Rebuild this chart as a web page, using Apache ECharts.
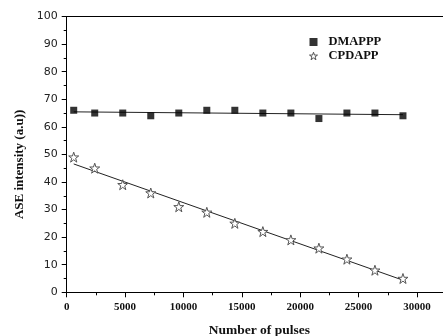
<!DOCTYPE html>
<html>
<head>
<meta charset="utf-8">
<script src="https://cdn.jsdelivr.net/npm/echarts@6/dist/echarts.min.js"></script>
<style>
  html, body { margin: 0; padding: 0; background: #fff; }
  #chart { width: 443px; height: 336px; }
</style>
</head>
<body>
<div id="chart"></div>
<script>
// Pulse counts at which ASE intensity was recorded
const pulses = [600, 2400, 4800, 7200, 9600, 12000, 14400, 16800, 19200, 21600, 24000, 26400, 28800];
// ASE intensity (a.u.) for each dye
const dmappp = [66, 65, 65, 64, 65, 66, 66, 65, 65, 63, 65, 65, 64];
const cpdapp = [49, 45, 39, 36, 31, 29, 25, 22, 19, 16, 12, 8, 5];

const seriesNames = ['DMAPPP', 'CPDAPP'];
const xTitle = 'Number of pulses';
const yTitle = 'ASE intensity (a.u))';

// Least-squares straight line through a set of points, evaluated at the first and last x
function linearFit(xs, ys) {
  const n = xs.length;
  const mx = xs.reduce((a, b) => a + b, 0) / n;
  const my = ys.reduce((a, b) => a + b, 0) / n;
  let sxy = 0, sxx = 0;
  for (let i = 0; i < n; i++) {
    sxy += (xs[i] - mx) * (ys[i] - my);
    sxx += (xs[i] - mx) * (xs[i] - mx);
  }
  const k = sxy / sxx;
  const b = my - k * mx;
  const x0 = xs[0], x1 = xs[n - 1];
  return [[x0, k * x0 + b], [x1, k * x1 + b]];
}

const pairs = (xs, ys) => xs.map((x, i) => [x, ys[i]]);
const starPath = 'path://M50,2 L61.8,36.2 L97.6,36.2 L68.6,57.4 L79.5,92 L50,70.6 L20.5,92 L31.4,57.4 L2.4,36.2 L38.2,36.2 Z';
const serif = '"Liberation Serif", "Times New Roman", serif';

const chart = echarts.init(document.getElementById('chart'), null, { renderer: 'canvas' });

chart.setOption({
  backgroundColor: '#ffffff',
  animation: false,
  grid: { left: 66.7, top: 16.5, right: -9, bottom: 43.7, containLabel: false, outerBoundsMode: 'none' },
  legend: {
    orient: 'vertical',
    left: 304,
    top: 30,
    itemWidth: 8,
    itemHeight: 8,
    itemGap: 0,
    textStyle: { fontFamily: serif, fontWeight: 'bold', fontSize: 12.5, color: '#111', padding: [0, 0, 0, 6], lineHeight: 14 },
    data: [
      { name: seriesNames[0], icon: 'rect', itemStyle: { color: '#000' } },
      { name: seriesNames[1], icon: starPath, itemStyle: { color: '#fff', borderColor: '#555', borderWidth: 1 } }
    ]
  },
  xAxis: [
    {
      type: 'value',
      min: 0,
      max: 33000,
      interval: 5000,
      position: 'bottom',
      name: xTitle,
      nameLocation: 'middle',
      nameGap: 31,
      nameTextStyle: { fontFamily: serif, fontWeight: 'bold', fontSize: 13.5, color: '#111' },
      axisLine: { show: true, onZero: false, lineStyle: { color: '#000', width: 1 } },
      axisTick: { show: true, inside: false, length: 5, lineStyle: { color: '#000' } },
      minorTick: { show: true, splitNumber: 2, length: 3, lineStyle: { color: '#000' } },
      splitLine: { show: false },
      axisLabel: {
        fontFamily: serif, fontWeight: 'bold', fontSize: 11, color: '#111', margin: 9, showMaxLabel: false,
        formatter: v => String(v)
      }
    },
    {
      type: 'value',
      min: 0,
      max: 33000,
      position: 'top',
      axisLine: { show: true, onZero: false, lineStyle: { color: '#000', width: 1 } },
      axisTick: { show: false },
      axisLabel: { show: false },
      splitLine: { show: false }
    }
  ],
  yAxis: {
    type: 'value',
    min: 0,
    max: 100,
    interval: 10,
    name: yTitle,
    nameLocation: 'middle',
    nameGap: 39,
    nameTextStyle: { fontFamily: serif, fontWeight: 'bold', fontSize: 13, color: '#111', padding: [0, 20, 0, 0] },
    axisLine: { show: true, onZero: false, lineStyle: { color: '#000', width: 1 } },
    axisTick: { show: true, inside: false, length: 5, lineStyle: { color: '#000' } },
    minorTick: { show: true, splitNumber: 2, length: 3, lineStyle: { color: '#000' } },
    splitLine: { show: false },
    axisLabel: { fontFamily: '"DejaVu Sans", Verdana, sans-serif', fontSize: 11, color: '#222', margin: 9 }
  },
  series: [
    {
      name: seriesNames[0] + ' fit',
      type: 'line',
      data: linearFit(pulses, dmappp),
      symbol: 'none',
      lineStyle: { color: '#222', width: 1 },
      z: 1
    },
    {
      name: seriesNames[1] + ' fit',
      type: 'line',
      data: linearFit(pulses, cpdapp),
      symbol: 'none',
      lineStyle: { color: '#222', width: 1 },
      z: 1
    },
    {
      name: seriesNames[0],
      type: 'scatter',
      data: pairs(pulses, dmappp),
      symbol: 'rect',
      symbolSize: 7,
      itemStyle: { color: '#000' },
      z: 3
    },
    {
      name: seriesNames[1],
      type: 'scatter',
      data: pairs(pulses, cpdapp),
      symbol: starPath,
      symbolSize: 10,
      itemStyle: { color: '#fff', borderColor: '#555', borderWidth: 1, opacity: 1 },
      z: 3
    }
  ]
});
</script>
</body>
</html>
